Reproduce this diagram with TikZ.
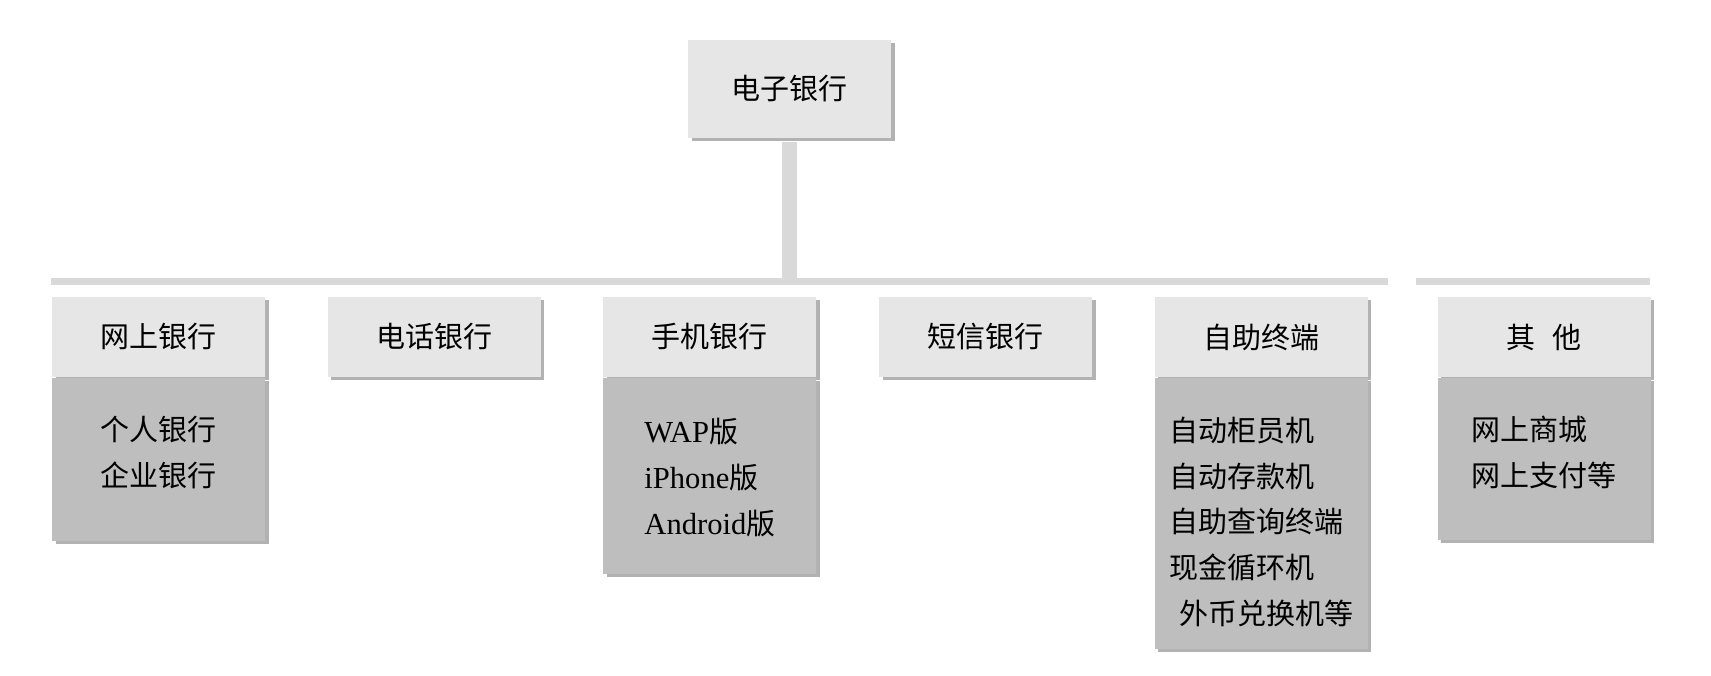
\documentclass[tikz,border=0pt]{standalone}
\usepackage{fontspec}
\setmainfont{Liberation Serif}
\newfontfamily\cjk{Noto Sans CJK SC}
\usetikzlibrary{positioning,shadows}
\definecolor{Head}{HTML}{E6E6E6}
\definecolor{Sub}{HTML}{BEBEBE}
\definecolor{Rail}{HTML}{D9D9D9}
\newcommand\lat[1]{{\rmfamily\fontsize{17.4pt}{26pt}\selectfont #1}}
\tikzset{
  boxshadow/.style={drop shadow={shadow xshift=.07cm,shadow yshift=-.07cm,fill=black,opacity=.3}},
  headbox/.style={fill=Head,boxshadow,minimum width=4.26cm,minimum height=1.6cm,inner sep=0pt,font=\cjk\fontsize{16.5pt}{26pt}\selectfont},
  subbox/.style={fill=Sub,boxshadow,minimum width=4.26cm,inner sep=0pt},
  subtext/.style={inner sep=0pt,align=left,font=\cjk\fontsize{16.5pt}{26pt}\selectfont},
  rail/.style={fill=Rail,inner sep=0pt,minimum height=.14cm},
  stem/.style={draw=Rail,line width=.3cm}
}

\begin{document}
\begin{tikzpicture}[node distance=1.24cm]
  \useasboundingbox (0,0) rectangle (34.22,-13.52);
  \node[headbox,minimum width=4.06cm,minimum height=1.96cm] (top) at (15.79,-1.78) {电子银行};
  \node[rail,minimum width=26.74cm] (rail1) at (14.39,-5.63) {};
  \node[rail,minimum width=4.68cm] (rail2) at (30.66,-5.63) {};
  \draw[stem,shorten <=.07cm] (top.south) -- (top.south |- rail1.north);

  % channels
  \node[headbox] (net) at (3.17,-6.74) {网上银行};
  \node[headbox,right=of net] (phone) {电话银行};
  \node[headbox,right=of phone] (mobile) {手机银行};
  \node[headbox,right=of mobile] (sms) {短信银行};
  \node[headbox,right=of sms] (self) {自助终端};
  \node[headbox,right=1.38cm of self] (other) {其\hspace{.6em}他};

  % sub items
  \node[subbox,below=0pt of net,minimum height=3.26cm] (netsub) {};
  \node[subbox,below=0pt of mobile,minimum height=3.92cm] (mobilesub) {};
  \node[subbox,below=0pt of self,minimum height=5.42cm] (selfsub) {};
  \node[subbox,below=0pt of other,minimum height=3.24cm] (othersub) {};
  \node[subtext,yshift=.13cm] (netlist) at (netsub) {个人银行\\企业银行};
  \node[subtext,yshift=-.04cm] (mobilelist) at (mobilesub) {\lat{WAP}版\\\lat{iPhone}版\\\lat{Android}版};
  \node[subtext,yshift=-.17cm] (selflist) at (selfsub) {自动柜员机\\自动存款机\\自助查询终端\\现金循环机\\\hspace*{.35em}外币兑换机等};
  \node[subtext,yshift=.13cm] (otherlist) at (othersub) {网上商城\\网上支付等};
\end{tikzpicture}
\end{document}
